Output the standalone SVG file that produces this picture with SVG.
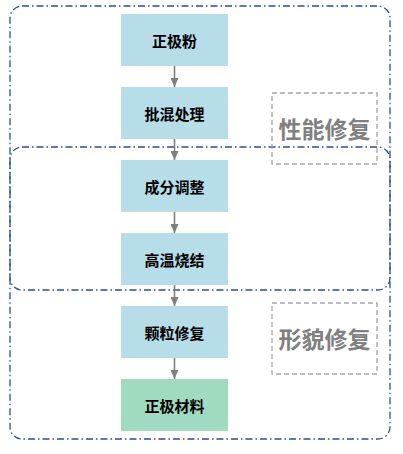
<svg xmlns="http://www.w3.org/2000/svg" width="403" height="454" viewBox="0 0 403 454">
<defs>
<marker id="ah" markerWidth="9" markerHeight="8" refX="9" refY="4" orient="auto" markerUnits="userSpaceOnUse">
<path d="M0,0 L9,4 L0,8 Z" fill="#7f7f7f"/>
</marker>
<style>
.grp{fill:none;stroke:#2b4f8f;stroke-width:1.3;stroke-dasharray:7 3 1.5 3}
.lbl{fill:none;stroke:#a6a6a6;stroke-width:1.3;stroke-dasharray:5 3}
.ltxt{font-family:"Noto Sans CJK SC","Noto Sans CJK JP",sans-serif;font-size:23px;font-weight:bold;fill:#808080;text-anchor:middle;dominant-baseline:central}
.node rect{stroke:none}
.ntxt{font-family:"Noto Sans CJK SC","Noto Sans CJK JP",sans-serif;font-size:15px;font-weight:bold;fill:#000;text-anchor:middle;dominant-baseline:central}
.conn{stroke:#7f7f7f;stroke-width:1.6;fill:none}
</style>
</defs>
<rect width="403" height="454" fill="#fff"/>
<g id="group-outer"><rect class="grp" x="10" y="6" width="380" height="433" rx="12"/></g>
<g id="group-inner"><rect class="grp" x="10" y="147" width="380" height="143" rx="12"/></g>
<g id="label-performance">
<rect class="lbl" x="272" y="93" width="105" height="71"/>
<text class="ltxt" x="324.5" y="128">性能修复</text>
</g>
<g id="label-morphology">
<rect class="lbl" x="272" y="303" width="105" height="71"/>
<text class="ltxt" x="324.5" y="338">形貌修复</text>
</g>
<g id="n1" class="node"><rect x="121" y="14" width="107" height="52" fill="#b7dde8"/><text class="ntxt" x="174.5" y="40">正极粉</text></g>
<g id="n2" class="node"><rect x="121" y="87" width="107" height="52" fill="#b7dde8"/><text class="ntxt" x="174.5" y="113">批混处理</text></g>
<g id="n3" class="node"><rect x="121" y="160" width="107" height="52" fill="#b7dde8"/><text class="ntxt" x="174.5" y="186">成分调整</text></g>
<g id="n4" class="node"><rect x="121" y="233" width="107" height="52" fill="#b7dde8"/><text class="ntxt" x="174.5" y="259">高温烧结</text></g>
<g id="n5" class="node"><rect x="121" y="306" width="107" height="52" fill="#b7dde8"/><text class="ntxt" x="174.5" y="332">颗粒修复</text></g>
<g id="n6" class="node"><rect x="121" y="379" width="107" height="52" fill="#a0dabf"/><text class="ntxt" x="174.5" y="405">正极材料</text></g>
<g id="connectors">
<line class="conn" x1="174.5" y1="66" x2="174.5" y2="87" marker-end="url(#ah)"/>
<line class="conn" x1="174.5" y1="139" x2="174.5" y2="160" marker-end="url(#ah)"/>
<line class="conn" x1="174.5" y1="212" x2="174.5" y2="233" marker-end="url(#ah)"/>
<line class="conn" x1="174.5" y1="285" x2="174.5" y2="306" marker-end="url(#ah)"/>
<line class="conn" x1="174.5" y1="358" x2="174.5" y2="379" marker-end="url(#ah)"/>
</g>
</svg>
